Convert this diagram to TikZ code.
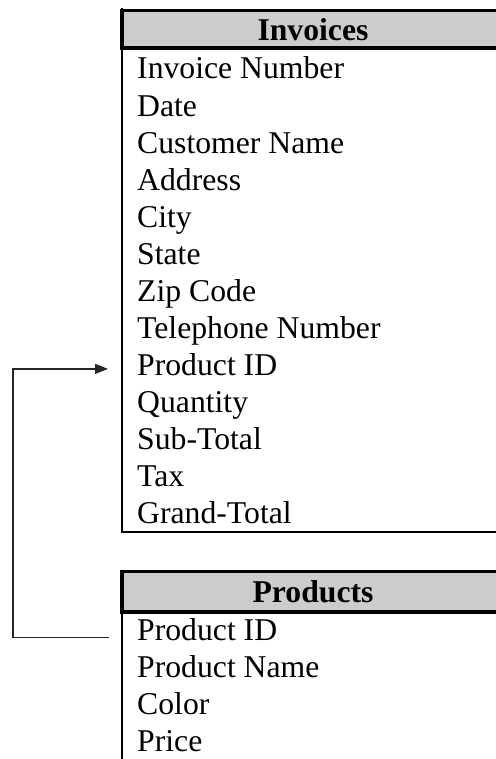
\documentclass[tikz,border=0pt]{standalone}
\usepackage{fontspec}
\setmainfont{Liberation Serif}
\usetikzlibrary{arrows.meta}
\definecolor{hdrgray}{RGB}{204,204,204}
\tikzset{
  hdr/.style={draw, line width=3.5pt, fill=hdrgray, minimum width=382pt, inner sep=0pt,
    font=\bfseries\fontsize{31.7}{37}\selectfont},
  fld/.style={anchor=base west, inner sep=0pt, text height=22pt, text depth=7pt,
    font=\fontsize{31.7}{37}\selectfont},
  bodyline/.style={line width=2pt},
  conn/.style={line width=1.2pt, draw=black!85}
}
\begin{document}
\begin{tikzpicture}[x=1pt,y=-1pt]
\useasboundingbox (0,0) rectangle (495,759);
% table bodies
\draw[bodyline] (122,8) -- (122,532) -- (500,532);
\draw[bodyline] (122,570) -- (122,762);
% headers
\node[hdr, minimum height=37.5pt] (invh) at (313,29.25) {Invoices};
\node[hdr, minimum height=40.5pt] (prodh) at (313,591.75) {Products};
% Invoice fields
\node[fld] (i1) at (137,79) {Invoice Number};
\node[fld] (i2) at (137,116.05) {Date};
\node[fld] (i3) at (137,153.1) {Customer Name};
\node[fld] (i4) at (137,190.15) {Address};
\node[fld] (i5) at (137,227.2) {City};
\node[fld] (i6) at (137,264.25) {State};
\node[fld] (i7) at (137,301.3) {Zip Code};
\node[fld] (i8) at (137,338.35) {Telephone Number};
\node[fld] (ipid) at (137,375.4) {Product ID};
\node[fld] (i10) at (137,412.45) {Quantity};
\node[fld] (i11) at (137,449.5) {Sub-Total};
\node[fld] (i12) at (137,486.55) {Tax};
\node[fld] (i13) at (137,523.6) {Grand-Total};
% Product fields
\node[fld] (ppid) at (137,640) {Product ID};
\node[fld] (p2) at (137,677.3) {Product Name};
\node[fld] (p3) at (137,714.6) {Color};
\node[fld] (p4) at (137,751.9) {Price};
% connector
\draw[conn, -{Triangle[length=13pt,width=10pt]}]
  ([xshift=-28pt,yshift=-5pt]ppid.west) -- ++(-96,0) |- ([xshift=-29pt,yshift=-1pt]ipid.west);
\end{tikzpicture}
\end{document}
